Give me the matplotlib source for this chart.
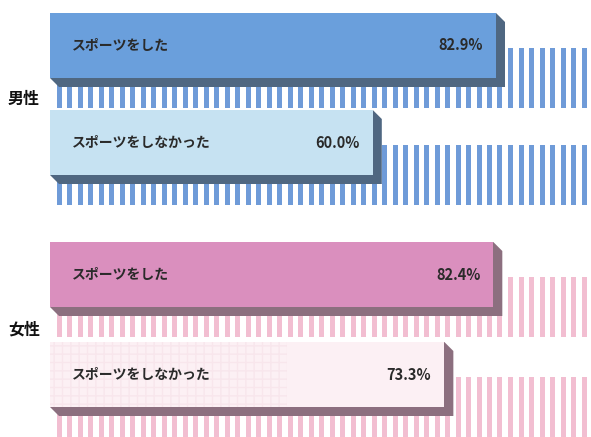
"""Sports participation by gender: striped 3D-style horizontal bars -> out.png"""

import matplotlib
matplotlib.use("Agg")
import matplotlib.pyplot as plt
import matplotlib.transforms as mtransforms
from matplotlib.patches import Polygon
import numpy as np

plt.rcParams["font.family"] = ["Noto Sans CJK JP", "DejaVu Sans"]

# ── data ──────────────────────────────────────────────────────────────
groups = ["男性", "女性"]
categories = ["スポーツをした", "スポーツをしなかった"]
male_pct = [82.9, 60.0]
female_pct = [82.4, 73.3]

# ── layout (pixel units, y grows downward) ────────────────────────────
W, H = 591, 437
LEFT = 50            # x pixel of 0 %
PX = 5.38            # pixels per percentage point
ROW_TOPS = [[13, 110], [242, 342]]
BAR_H = 65
DEPTH = 9            # extrusion depth of the 3D edge
STRIPE_PERIOD = 10.5
STRIPE_W = 5.0

STYLES = [
    {"fills": ["#6a9fdc", "#c6e2f2"], "shadow": "#4f6781", "stripe": "#6f9bd8"},
    {"fills": ["#da8fbe", "#fcf0f4"], "shadow": "#8c6f7f", "stripe": "#f2bed1"},
]
TEXT_COL = "#2a2a2a"

fig = plt.figure(figsize=(W / 100, H / 100), dpi=100)
ax = fig.add_axes([LEFT / W, 0, (W - LEFT) / W, 1])
xmax = (W - LEFT) / PX
ax.set_xlim(0, xmax)
ax.set_ylim(H, 0)
ax.axis("off")

dx = DEPTH / PX
stripe_x = np.arange((59 - LEFT) / PX, xmax + 1, STRIPE_PERIOD / PX)
label_tf = mtransforms.blended_transform_factory(fig.transFigure, ax.transData)

for g, (name, values) in enumerate(zip(groups, [male_pct, female_pct])):
    st = STYLES[g]
    for i, (cat, val) in enumerate(zip(categories, values)):
        top = ROW_TOPS[g][i]
        bottom = top + BAR_H

        # striped band behind the bar
        band_top = top + 35
        band_bot = min(bottom + 30, H + 2)
        ax.bar(stripe_x, band_bot - band_top, bottom=band_top,
               width=STRIPE_W / PX, color=st["stripe"], linewidth=0, zorder=1)

        # 3D extrusion under and to the right of the bar
        edge = Polygon([(0, bottom), (dx, bottom + DEPTH), (val + dx, bottom + DEPTH),
                        (val + dx, top + DEPTH), (val, top)],
                       closed=True, facecolor=st["shadow"], edgecolor="none", zorder=2)
        ax.add_patch(edge)

        ax.barh(top + BAR_H / 2, val, height=BAR_H, left=0,
                color=st["fills"][i], linewidth=0, zorder=3)
        if g == 1 and i == 1:
            # faint grid texture on the pale bar
            ax.barh(top + BAR_H / 2, val * 0.6, height=BAR_H, left=0,
                    facecolor="none", edgecolor="#f8e6ec", hatch="++",
                    linewidth=0, zorder=3.5)

        ax.text((72 - LEFT) / PX, top + BAR_H / 2, cat, ha="left", va="center",
                fontsize=10, color=TEXT_COL, fontweight="bold", zorder=4)
        ax.text(val - 13 / PX, top + BAR_H / 2, f"{val:.1f}%", ha="right", va="center",
                fontsize=10.5, color=TEXT_COL, fontweight="bold", zorder=4)

    group_mid = (ROW_TOPS[g][0] + ROW_TOPS[g][1] + BAR_H + DEPTH) / 2
    ax.text(8 / W, group_mid, name, transform=label_tf, ha="left", va="center",
            fontsize=11.5, color="#111111", fontweight="bold")

fig.savefig("out.png", dpi=100)
plt.close(fig)
